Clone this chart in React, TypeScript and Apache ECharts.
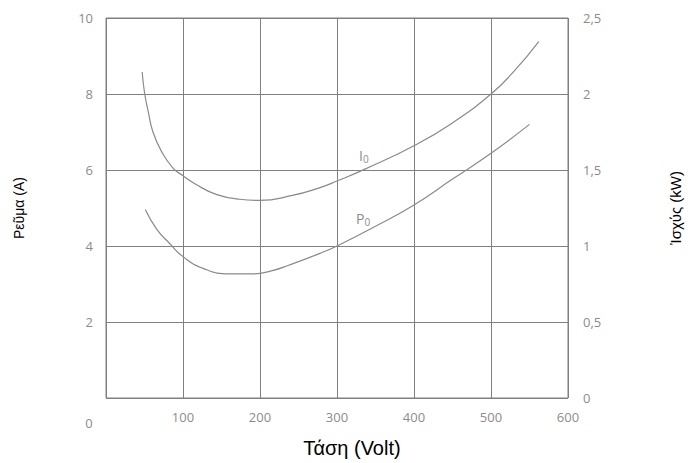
import React, { useEffect, useRef } from "react";
import * as echarts from "echarts";

const voltageI: number[] = [47, 50, 55, 61, 72, 87, 100, 117, 143, 173, 199, 242, 277, 300, 337, 400, 450, 500, 530, 562];
const currentI0: number[] = [8.58, 8.04, 7.52, 7.0, 6.49, 6.05, 5.85, 5.62, 5.36, 5.23, 5.2, 5.33, 5.53, 5.71, 6.03, 6.64, 7.24, 8.0, 8.6, 9.38];

const voltageP: number[] = [51, 66, 83, 100, 126, 160, 190, 216, 238, 277, 300, 350, 400, 450, 500, 550];
const powerP0: number[] = [1.24, 1.11, 1.015, 0.93, 0.853, 0.816, 0.816, 0.838, 0.875, 0.95, 1.0, 1.13, 1.27, 1.44, 1.61, 1.8];

const xTicks = { min: 0, max: 600, interval: 100 };
const leftTicks = { min: 0, max: 10, interval: 2 };
const rightTicks = { min: 0, max: 2.5, interval: 0.5 };

const labelColor = "#8c8c8c";
const lineColor = "#8a8a8a";
const gridColor = "#808080";
const tickFont = "'Open Sans', sans-serif";
const titleFont = "'Liberation Sans', Arial, sans-serif";

export default function App() {
  const ref = useRef<HTMLDivElement>(null);
  useEffect(() => {
    if (!ref.current) return;
    const chart = echarts.init(ref.current, undefined, { renderer: "svg" });
    chart.setOption({
      animation: false,
      backgroundColor: "#ffffff",
      grid: {
        left: 106,
        right: 121,
        top: 18,
        bottom: 60,
        show: true,
        borderColor: gridColor,
        borderWidth: 1,
      },
      xAxis: {
        type: "value",
        ...xTicks,
        name: "Τάση (Volt)",
        nameLocation: "middle",
        nameGap: 40,
        nameTextStyle: { color: "#000", fontSize: 20, fontFamily: titleFont, padding: [0, 0, 0, 30] },
        axisLine: { show: false },
        axisTick: { show: false },
        axisLabel: {
          color: labelColor,
          fontSize: 13,
          fontFamily: tickFont,
          margin: 12,
          showMinLabel: false,
        },
        splitLine: { show: true, lineStyle: { color: gridColor, width: 1 } },
      },
      yAxis: [
        {
          type: "value",
          ...leftTicks,
          position: "left",
          name: "Ρεῦμα (A)",
          nameLocation: "middle",
          nameGap: 80,
          nameTextStyle: { color: "#000", fontSize: 14, fontFamily: titleFont },
          axisLine: { show: false },
          axisTick: { show: false },
          axisLabel: {
            color: labelColor,
            fontSize: 13,
            fontFamily: tickFont,
            margin: 13,
            showMinLabel: false,
          },
          splitLine: { show: true, lineStyle: { color: gridColor, width: 1 } },
        },
        {
          type: "value",
          ...rightTicks,
          position: "right",
          name: "Ἰσχύς (kW)",
          nameLocation: "middle",
          nameRotate: 90,
          nameGap: 100,
          nameTextStyle: { color: "#000", fontSize: 15, fontFamily: titleFont },
          axisLine: { show: false },
          axisTick: { show: false },
          axisLabel: {
            color: labelColor,
            fontSize: 13,
            fontFamily: tickFont,
            margin: 15,
            formatter: (v: number) => String(v).replace(".", ","),
          },
          splitLine: { show: false },
        },
      ],
      graphic: [
        {
          type: "text",
          x: 89,
          y: 423,
          style: {
            text: "0",
            fill: labelColor,
            font: "13px 'Open Sans', sans-serif",
            align: "center",
            verticalAlign: "middle",
          },
        },
        {
          type: "text",
          x: 359,
          y: 155,
          style: {
            text: "I{s|0}",
            fill: labelColor,
            font: "14px 'Open Sans', sans-serif",
            verticalAlign: "middle",
            rich: { s: { fontSize: 10, fill: labelColor, fontFamily: "'Open Sans', sans-serif", padding: [8, 0, 0, 0] } },
          },
        },
        {
          type: "text",
          x: 356,
          y: 218,
          style: {
            text: "P{s|0}",
            fill: labelColor,
            font: "14px 'Open Sans', sans-serif",
            verticalAlign: "middle",
            rich: { s: { fontSize: 10, fill: labelColor, fontFamily: "'Open Sans', sans-serif", padding: [8, 0, 0, 0] } },
          },
        },
      ],
      series: [
        {
          name: "I0",
          type: "line",
          yAxisIndex: 0,
          smooth: 0.5,
          showSymbol: false,
          lineStyle: { color: lineColor, width: 1.2 },
          data: voltageI.map((v, i) => [v, currentI0[i]]),
        },
        {
          name: "P0",
          type: "line",
          yAxisIndex: 1,
          smooth: 0.5,
          showSymbol: false,
          lineStyle: { color: lineColor, width: 1.2 },
          data: voltageP.map((v, i) => [v, powerP0[i]]),
        },
      ],
    });
    return () => chart.dispose();
  }, []);
  return <div ref={ref} style={{ position: "absolute", left: 0, top: 0, width: 691, height: 463 }} />;
}
